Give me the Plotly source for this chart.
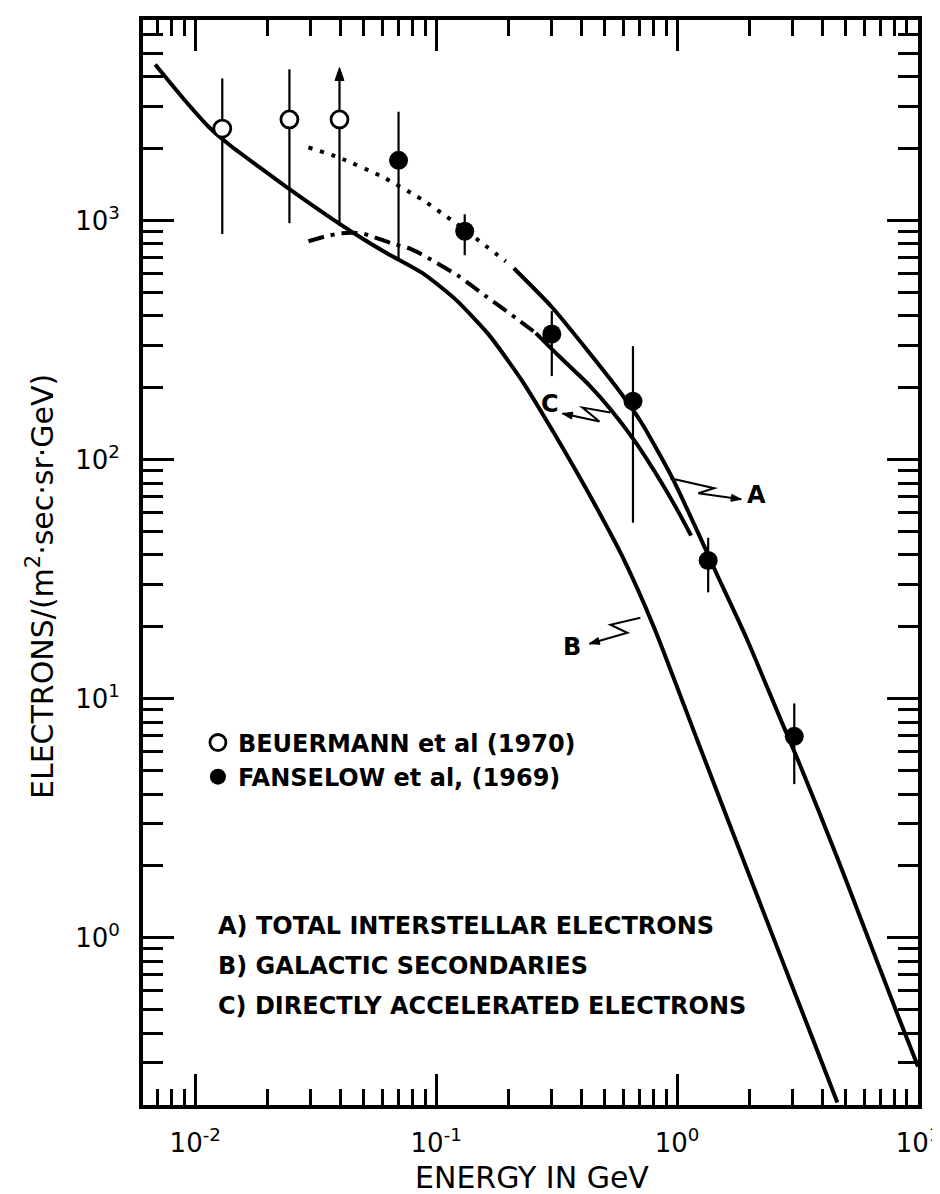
import math
import plotly.graph_objects as go

# ---------------- data ----------------
# Beuermann et al (1970): open circles
beu_E = [0.01295, 0.0246, 0.0397]
beu_F = [2430, 2655, 2655]
beu_hi = [3940, 4300, 4210]
beu_lo = [880, 977, 950]

# Fanselow et al (1969): filled circles
fan_E = [0.0698, 0.1314, 0.302, 0.656, 1.346, 3.065]
fan_F = [1790, 904, 336, 176, 37.9, 6.97]
fan_hi = [2860, 1065, 419, 299, 47.2, 9.57]
fan_lo = [691, 718, 224, 54.6, 27.9, 4.40]

# Curve A - total interstellar electrons (dotted part, then solid)
A_dot_E = [0.0295, 0.0393, 0.0593, 0.0870, 0.116, 0.146, 0.1945]
A_dot_F = [2027, 1842, 1534, 1230, 1005, 845, 677]
A_sol_E = [0.2101, 0.302, 0.4306, 0.585, 0.7086, 0.9532, 1.27, 1.453, 1.936,
           2.733, 3.216, 4.627, 5.877, 8.138, 10.0]
A_sol_F = [633, 436, 282, 190, 144, 84.5, 45.5, 33.7, 18.06,
           7.90, 5.38, 2.16, 1.155, 0.491, 0.29]

# Curve B - galactic secondaries
B_E = [0.00682, 0.00892, 0.01133, 0.01398, 0.01828, 0.02436, 0.03676, 0.04994,
       0.06345, 0.08872, 0.1206, 0.1653, 0.2267, 0.314, 0.4306, 0.5906, 0.8024,
       1.2, 1.645, 2.656, 3.641, 4.627]
B_F = [4503, 3247, 2481, 2066, 1689, 1367, 1024, 837,
       725, 600, 468, 334, 215, 125.5, 72.1, 39.7, 19.9,
       6.91, 3.02, 0.866, 0.382, 0.2047]

# Curve C - directly accelerated electrons (dash-dot part, then solid)
C_dd_E = [0.02951, 0.0347, 0.04047, 0.049, 0.06531, 0.0791, 0.09307, 0.1241,
          0.1606, 0.2141, 0.2593]
C_dd_F = [821, 861, 887, 887, 805, 760, 697, 587, 484, 392, 339]
C_sol_E = [0.2593, 0.3231, 0.4306, 0.5367, 0.6755, 0.818, 0.9904, 1.143]
C_sol_F = [339, 272, 206, 160.2, 117.8, 87.4, 63.1, 48.2]

# axis ticks
x_major = [0.01, 0.1, 1, 10]
x_major_text = ["10<sup>-2</sup>", "10<sup>-1</sup>", "10<sup>0</sup>", "10<sup>1</sup>"]
x_minor = [7e-3, 8e-3, 9e-3] + [k * 1e-2 for k in range(2, 10)] + \
          [k * 1e-1 for k in range(2, 10)] + [k * 1.0 for k in range(2, 10)]
y_major = [1, 10, 100, 1000]
y_major_text = ["10<sup>0</sup>", "10<sup>1</sup>", "10<sup>2</sup>", "10<sup>3</sup>"]
y_minor = [k * 0.1 for k in range(3, 10)] + [k * 1.0 for k in range(2, 10)] + \
          [k * 10.0 for k in range(2, 10)] + [k * 100.0 for k in range(2, 10)] + \
          [k * 1000.0 for k in range(2, 7)]

# ---------------- layout geometry ----------------
W, H = 940, 1194
ML, MR, MT, MB = 135, 29, 8, 97
PW, PH = W - ML - MR, H - MT - MB
X_RANGE = [math.log10(0.00607), 1.0]
Y_RANGE = [math.log10(0.2), 3.84]


def px(x):
    return (x - ML) / PW


def py(y):
    return (H - MB - y) / PH


def data_to_pixel(e, f):
    xf = (math.log10(e) - X_RANGE[0]) / (X_RANGE[1] - X_RANGE[0])
    yf = (math.log10(f) - Y_RANGE[0]) / (Y_RANGE[1] - Y_RANGE[0])
    return ML + xf * PW, H - MB - yf * PH


def arrowhead_path(tail, tip, length=10.0, half=4.0):
    dx, dy = tip[0] - tail[0], tip[1] - tail[1]
    n = math.hypot(dx, dy)
    ux, uy = dx / n, dy / n
    bx, by = tip[0] - ux * length, tip[1] - uy * length
    p1 = (bx - uy * half, by + ux * half)
    p2 = (bx + uy * half, by - ux * half)
    return "M {} {} L {} {} L {} {} Z".format(px(tip[0]), py(tip[1]), px(p1[0]), py(p1[1]),
                                              px(p2[0]), py(p2[1]))


FONT = "DejaVu Sans"
BLACK = "black"

fig = go.Figure()

LW = 4
SM = dict(shape="spline", smoothing=0.6)
fig.add_trace(go.Scatter(x=B_E, y=B_F, mode="lines", showlegend=False,
                         line=dict(color=BLACK, width=LW, **SM)))
fig.add_trace(go.Scatter(x=A_dot_E, y=A_dot_F, mode="lines", showlegend=False,
                         line=dict(color=BLACK, width=LW, dash="4px,8px", **SM)))
fig.add_trace(go.Scatter(x=A_sol_E, y=A_sol_F, mode="lines", showlegend=False,
                         line=dict(color=BLACK, width=LW, **SM)))
fig.add_trace(go.Scatter(x=C_dd_E, y=C_dd_F, mode="lines", showlegend=False,
                         line=dict(color=BLACK, width=LW, dash="16px,7px,4px,7px", **SM)))
fig.add_trace(go.Scatter(x=C_sol_E, y=C_sol_F, mode="lines", showlegend=False,
                         line=dict(color=BLACK, width=LW, **SM)))

fig.add_trace(go.Scatter(
    x=beu_E, y=beu_F, mode="markers", name="BEUERMANN et al (1970)",
    marker=dict(symbol="circle", size=17, color="white", line=dict(color=BLACK, width=2.8)),
    error_y=dict(type="data", symmetric=False,
                 array=[h - f for h, f in zip(beu_hi, beu_F)],
                 arrayminus=[f - l for f, l in zip(beu_F, beu_lo)],
                 color=BLACK, thickness=2.2, width=0)))
fig.add_trace(go.Scatter(
    x=fan_E, y=fan_F, mode="markers", name="FANSELOW et al, (1969)",
    marker=dict(symbol="circle", size=19, color=BLACK, line=dict(color=BLACK, width=0)),
    error_y=dict(type="data", symmetric=False,
                 array=[h - f for h, f in zip(fan_hi, fan_F)],
                 arrayminus=[f - l for f, l in zip(fan_F, fan_lo)],
                 color=BLACK, thickness=2.2, width=0)))

annotations = []
shapes = []

# upper-limit arrowhead on the third Beuermann point (top of its bar)
tip = data_to_pixel(beu_E[2], beu_hi[2])
tip = (tip[0], tip[1] - 4)
shapes.append(dict(type="path", xref="paper", yref="paper",
                   path=arrowhead_path((tip[0], tip[1] + 20), tip, length=13, half=4.5),
                   fillcolor=BLACK, line=dict(color=BLACK, width=1)))

# curve labels with lightning-style leaders (pixel geometry)
leaders = {
    "C": dict(label=(543, 393), pts=[(603, 402), (575, 397), (592, 411)], tip=(555, 403)),
    "A": dict(label=(749, 485), pts=[(663, 468), (707, 478), (691, 483)], tip=(734, 489)),
    "B": dict(label=(565, 637), pts=[(633, 608), (603, 615), (620, 623)], tip=(582, 634)),
}
for name, g in leaders.items():
    p = g["pts"] + [g["tip"]]
    path = "M " + " L ".join("{} {}".format(px(a), py(b)) for a, b in p)
    shapes.append(dict(type="path", xref="paper", yref="paper", path=path,
                       line=dict(color=BLACK, width=2)))
    shapes.append(dict(type="path", xref="paper", yref="paper",
                       path=arrowhead_path(p[2], g["tip"], length=10, half=3.5),
                       fillcolor=BLACK, line=dict(color=BLACK, width=1)))
    annotations.append(dict(x=px(g["label"][0]), y=py(g["label"][1]), xref="paper", yref="paper",
                            text=name, showarrow=False, xanchor="center", yanchor="middle",
                            font=dict(family=FONT, size=24, color=BLACK, weight="bold")))

# A/B/C description block
desc = ["A) TOTAL INTERSTELLAR ELECTRONS", "B) GALACTIC SECONDARIES",
        "C) DIRECTLY ACCELERATED ELECTRONS"]
for txt, yy in zip(desc, [917, 957, 998]):
    annotations.append(dict(x=px(208), y=py(yy), xref="paper", yref="paper", text=txt,
                            showarrow=False, xanchor="left", yanchor="middle",
                            font=dict(family=FONT, size=24, color=BLACK, weight="bold")))

# axis titles
annotations.append(dict(x=px(525), y=py(1170), xref="paper", yref="paper",
                        text="ENERGY IN GeV", showarrow=False, xanchor="center", yanchor="middle",
                        font=dict(family=FONT, size=30, color=BLACK)))
annotations.append(dict(x=px(33), y=py(577), xref="paper", yref="paper",
                        text="ELECTRONS/(m<sup>2</sup>·sec·sr·GeV)", textangle=-90,
                        showarrow=False, xanchor="center", yanchor="middle",
                        font=dict(family=FONT, size=30, color=BLACK)))

axis_common = dict(type="log", showgrid=False, zeroline=False, showline=True,
                   linecolor=BLACK, linewidth=4, mirror="ticks", ticks="inside",
                   tickcolor=BLACK, tickwidth=2.8, ticklen=31,
                   tickfont=dict(family=FONT, size=26, color=BLACK))

fig.update_xaxes(range=X_RANGE, tickvals=x_major, ticktext=x_major_text,
                 ticklabelstandoff=12,
                 minor=dict(tickvals=x_minor, ticks="inside", ticklen=16, tickwidth=2.8,
                            tickcolor=BLACK, showgrid=False),
                 **axis_common)
fig.update_yaxes(range=Y_RANGE, tickvals=y_major, ticktext=y_major_text,
                 ticklabelstandoff=14,
                 minor=dict(tickvals=y_minor, ticks="inside", ticklen=20, tickwidth=2.8,
                            tickcolor=BLACK, showgrid=False),
                 **axis_common)

fig.update_layout(
    width=W, height=H,
    margin=dict(l=ML, r=MR, t=MT, b=MB),
    paper_bgcolor="white", plot_bgcolor="white",
    font=dict(family=FONT, color=BLACK),
    showlegend=True,
    legend=dict(x=px(190), y=py(711), xanchor="left", yanchor="top",
                bgcolor="rgba(0,0,0,0)", tracegroupgap=0, itemsizing="trace",
                font=dict(family=FONT, size=24, color=BLACK, weight="bold")),
    annotations=annotations, shapes=shapes,
)

fig.write_html("out.html")
